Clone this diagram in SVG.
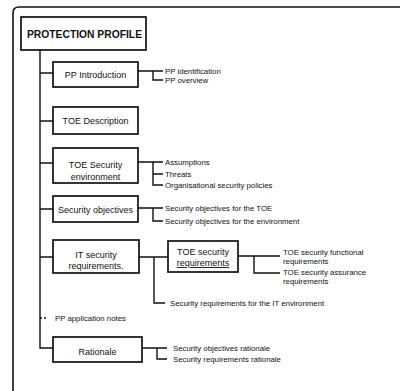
<svg xmlns="http://www.w3.org/2000/svg" width="400" height="391" viewBox="0 0 400 391">
<style>
.frame{fill:none;stroke:#111;stroke-width:1.6}
.box{fill:#fff;stroke:#111;stroke-width:1.7}
.ln{fill:none;stroke:#111;stroke-width:1.4}
.t{font-family:"Liberation Sans",Arial,sans-serif;font-size:9px;fill:#111;text-anchor:middle}
.s{font-family:"Liberation Sans",Arial,sans-serif;font-size:7.8px;fill:#111}
.h{font-family:"Liberation Sans",Arial,sans-serif;font-size:11.5px;font-weight:bold;fill:#111}
</style>
<rect width="400" height="391" fill="#fff"/>
<path class="frame" d="M13,391 V13 Q13,7 19,7 H400"/>
<g id="connectors">
<path class="ln" d="M40,50 V348 H53"/>
<path class="ln" d="M40,73 H53 M40,121 H53 M40,163 H53 M40,209 H53 M40,257 H53"/>
<path class="ln" stroke-dasharray="2,2" d="M40,318 H48"/>
<path class="ln" d="M138,71 H163 M153,71 V80 H163"/>
<path class="ln" d="M138,162 H163 M153,162 V185 H163 M153,174 H163"/>
<path class="ln" d="M138,208 H163 M153,208 V221 H163"/>
<path class="ln" d="M138,257 H168 M154,257 V303 H165"/>
<path class="ln" d="M238,256 H280 M254,256 V273 H280"/>
<path class="ln" d="M142,348 H167 M157,348 V359 H167"/>
</g>
<g id="protection-profile"><rect class="box" x="21" y="17" width="125" height="33"/><text class="h" x="27" y="38" textLength="115" lengthAdjust="spacingAndGlyphs">PROTECTION PROFILE</text></g>
<g id="pp-introduction"><rect class="box" x="53" y="62" width="85" height="25"/><text class="t" x="95.5" y="78">PP Introduction</text></g>
<g id="pp-intro-items"><text class="s" x="165" y="73.5">PP identification</text><text class="s" x="165" y="83">PP overview</text></g>
<g id="toe-description"><rect class="box" x="53" y="107" width="85" height="27"/><text class="t" x="95.5" y="124">TOE Description</text></g>
<g id="toe-security-environment"><rect class="box" x="53" y="148" width="85" height="35"/><text class="t" x="95.5" y="168">TOE Security</text><text class="t" x="95.5" y="180">environment</text></g>
<g id="env-items"><text class="s" x="165" y="165">Assumptions</text><text class="s" x="165" y="176.5">Threats</text><text class="s" x="165" y="188">Organisational security policies</text></g>
<g id="security-objectives"><rect class="box" x="53" y="196" width="85" height="26"/><text class="t" x="95.5" y="213">Security objectives</text></g>
<g id="obj-items"><text class="s" x="165" y="211">Security objectives for the TOE</text><text class="s" x="165" y="223.5">Security objectives for the environment</text></g>
<g id="it-security-requirements"><rect class="box" x="53" y="240" width="86" height="33"/><text class="t" x="96" y="258">IT security</text><text class="t" x="96" y="269">requirements.</text></g>
<g id="toe-security-requirements"><rect class="box" x="168" y="241" width="70" height="31"/><text class="t" x="203" y="254.5">TOE security</text><text class="t" x="203" y="266" text-decoration="underline">requirements</text></g>
<g id="toe-req-items"><text class="s" x="283" y="255">TOE security functional</text><text class="s" x="283" y="264">requirements</text><text class="s" x="283" y="275">TOE security assurance</text><text class="s" x="283" y="284">requirements</text></g>
<g id="it-env-item"><text class="s" x="170" y="306">Security requirements for the IT environment</text></g>
<g id="pp-application-notes"><text class="s" x="55" y="321" fill="#444">PP application notes</text></g>
<g id="rationale"><rect class="box" x="53" y="337" width="89" height="25"/><text class="t" x="97.5" y="355">Rationale</text></g>
<g id="rationale-items"><text class="s" x="173" y="351">Security objectives rationale</text><text class="s" x="173" y="362">Security requirements rationale</text></g>
</svg>
